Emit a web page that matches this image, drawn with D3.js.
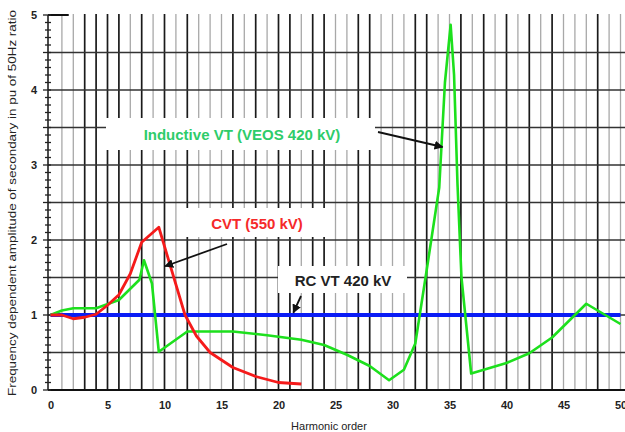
<!DOCTYPE html>
<html>
<head>
<meta charset="utf-8">
<script src="https://cdn.jsdelivr.net/npm/d3@7"></script>
<style>
  body { margin: 0; background: #fff; }
  svg { display: block; font-family: "Liberation Sans", Arial, sans-serif; }
</style>
</head>
<body>
<svg id="svg"></svg>
<script>
// harmonic order ticks and amplitude ticks
var harmonicTicks = [0, 5, 10, 15, 20, 25, 30, 35, 40, 45, 50];
var ampTicks = [0, 1, 2, 3, 4, 5];

// darker lines of the (scanned) grid paper
var heavyGrid = [3, 4, 5, 6, 8, 10, 12, 16, 18, 20, 21, 23, 24, 27, 28, 32, 33, 36, 38, 40, 42, 44, 48];

// CVT (550 kV)
var cvtH = [0, 1, 2, 3, 4, 5, 6, 7, 8, 9.5, 11.8, 12.8, 14, 16, 18, 20, 22];
var cvtV = [1.0, 1.0, 0.95, 0.97, 1.01, 1.13, 1.27, 1.55, 1.97, 2.17, 1.0, 0.72, 0.5, 0.3, 0.18, 0.1, 0.08];

// Inductive VT (VEOS 420 kV)
var indH = [0, 1, 2, 4, 6, 7.8, 8.2, 8.9, 9.5, 12, 16, 19, 22, 24, 26, 28, 29.7, 31, 32, 33, 34.1, 34.6, 35.1, 35.4, 35.7, 36.05, 36.9, 40, 42, 44, 47, 50];
var indV = [1.0, 1.06, 1.09, 1.09, 1.2, 1.47, 1.73, 1.42, 0.51, 0.78, 0.78, 0.73, 0.67, 0.6, 0.47, 0.32, 0.13, 0.27, 0.62, 1.6, 2.7, 4.1, 4.87, 4.2, 2.75, 1.5, 0.22, 0.36, 0.49, 0.7, 1.15, 0.88];

// RC VT 420 kV
var rcH = [0, 50];
var rcV = [1.0, 1.0];

var labels = ["Inductive VT (VEOS 420 kV)", "CVT (550 kV)", "RC VT 420 kV"];

var width = 625,
	height = 432;

var svg = d3.select("#svg")
	.attr("width", width)
	.attr("height", height);

var x = d3.scaleLinear().domain([0, 50]).range([50.5, 620.5]);
var y = d3.scaleLinear().domain([0, 5]).range([390, 15]);

// vertical grid
var vGrid = svg.append("g").attr("id", "vgrid");
vGrid.selectAll("line")
	.data(d3.range(1, 51))
	.enter()
	.append("line")
	.attr("x1", function(d){ return x(d); })
	.attr("x2", function(d){ return x(d); })
	.attr("y1", y(5) - 1)
	.attr("y2", y(0))
	.attr("stroke", function(d){ return heavyGrid.indexOf(d) >= 0 ? "#1a1a1a" : "#a8a8a8"; })
	.attr("stroke-width", function(d){ return heavyGrid.indexOf(d) >= 0 ? 1.7 : 1.3; });

// horizontal grid
var hGrid = svg.append("g").attr("id", "hgrid");
hGrid.selectAll("line")
	.data(d3.range(0.5, 5, 0.5))
	.enter()
	.append("line")
	.attr("x1", 48)
	.attr("x2", width)
	.attr("y1", function(d){ return y(d); })
	.attr("y2", function(d){ return y(d); })
	.attr("stroke", "#333")
	.attr("stroke-width", 1.3);

svg.append("line")
	.attr("x1", 48).attr("x2", x(1.6))
	.attr("y1", y(5)).attr("y2", y(5))
	.attr("stroke", "#111").attr("stroke-width", 2);

// axis lines
svg.append("line")
	.attr("x1", 48).attr("x2", 48)
	.attr("y1", y(5)).attr("y2", y(0))
	.attr("stroke", "#111").attr("stroke-width", 1.5);
svg.append("line")
	.attr("x1", 48).attr("x2", width)
	.attr("y1", y(0)).attr("y2", y(0))
	.attr("stroke", "#111").attr("stroke-width", 2);

// minor ticks on y axis
svg.append("g").selectAll("line")
	.data(d3.range(0, 51).map(function(d){ return d / 10; }))
	.enter()
	.append("line")
	.attr("x1", function(d){ return (d * 2) % 1 === 0 ? 43 : 45; })
	.attr("x2", 51)
	.attr("y1", function(d){ return y(d); })
	.attr("y2", function(d){ return y(d); })
	.attr("stroke", "#222")
	.attr("stroke-width", 1.3);

// tick labels
var xAxis = svg.append("g")
	.attr("transform", "translate(0," + y(0) + ")")
	.call(d3.axisBottom(x).tickValues(harmonicTicks).tickSize(0).tickPadding(11));
xAxis.select(".domain").remove();
xAxis.selectAll("text")
	.attr("font-size", 11)
	.attr("font-weight", "bold")
	.attr("fill", "#222")
	.attr("font-family", "Liberation Sans, Arial, sans-serif");

var yAxis = svg.append("g")
	.attr("transform", "translate(34,0)")
	.call(d3.axisLeft(y).tickValues(ampTicks).tickFormat(d3.format("d")).tickSize(0).tickPadding(0));
yAxis.select(".domain").remove();
yAxis.selectAll("text")
	.attr("text-anchor", "middle")
	.attr("dy", "0.35em")
	.attr("font-size", 11)
	.attr("font-weight", "bold")
	.attr("fill", "#222")
	.attr("font-family", "Liberation Sans, Arial, sans-serif");

// axis titles
svg.append("text")
	.attr("x", 329)
	.attr("y", 430)
	.attr("text-anchor", "middle")
	.attr("font-size", 11)
	.attr("fill", "#222")
	.text("Harmonic order");

svg.append("text")
	.attr("transform", "translate(16,203) rotate(-90)")
	.attr("text-anchor", "middle")
	.attr("font-size", 11.5)
	.attr("fill", "#222")
	.attr("textLength", 386)
	.attr("lengthAdjust", "spacingAndGlyphs")
	.text("Frequency dependent amplitude of secondary in pu of 50Hz ratio");

// label backgrounds
var boxes = [
	{x0: 106, x1: 375, y0: 118, y1: 150},
	{x0: 177, x1: 327, y0: 208, y1: 237},
	{x0: 278, x1: 407, y0: 266, y1: 293}
];
svg.append("g").selectAll("rect")
	.data(boxes)
	.enter()
	.append("rect")
	.attr("x", function(d){ return d.x0; })
	.attr("y", function(d){ return d.y0; })
	.attr("width", function(d){ return d.x1 - d.x0; })
	.attr("height", function(d){ return d.y1 - d.y0; })
	.attr("fill", "#fff");

// series
var line = d3.line()
	.x(function(d){ return x(d[0]); })
	.y(function(d){ return y(d[1]); });

function pairs(h, v){
	return h.map(function(d, i){ return [d, v[i]]; });
}

svg.append("path")
	.datum(pairs(rcH, rcV))
	.attr("d", line)
	.attr("fill", "none")
	.attr("stroke", "#0a1cf5")
	.attr("stroke-width", 4);

svg.append("path")
	.datum(pairs(indH, indV))
	.attr("d", line)
	.attr("fill", "none")
	.attr("stroke", "#1de01d")
	.attr("stroke-width", 2.6)
	.attr("stroke-linejoin", "round");

svg.append("path")
	.datum(pairs(cvtH, cvtV))
	.attr("d", line)
	.attr("fill", "none")
	.attr("stroke", "#f51a1a")
	.attr("stroke-width", 2.8)
	.attr("stroke-linejoin", "round");

// labels
var labelStyle = [
	{x: 242, y: 140, fill: "#2ecc6a"},
	{x: 257, y: 229, fill: "#f52a2a"},
	{x: 343, y: 286, fill: "#222"}
];
svg.append("g").selectAll("text")
	.data(labels)
	.enter()
	.append("text")
	.attr("x", function(d, i){ return labelStyle[i].x; })
	.attr("y", function(d, i){ return labelStyle[i].y; })
	.attr("text-anchor", "middle")
	.attr("font-size", 15)
	.attr("font-weight", "bold")
	.attr("fill", function(d, i){ return labelStyle[i].fill; })
	.text(function(d){ return d; });

// arrows
svg.append("defs").append("marker")
	.attr("id", "head")
	.attr("viewBox", "0 0 10 10")
	.attr("refX", 9)
	.attr("refY", 5)
	.attr("markerWidth", 5)
	.attr("markerHeight", 5)
	.attr("orient", "auto")
	.append("path")
	.attr("d", "M0,0L10,5L0,10Z")
	.attr("fill", "#111");

var arrows = [
	{x1: 378, y1: 132, h: 34.4, v: 3.24},
	{x1: 227, y1: 244, h: 10.05, v: 1.65},
	{x1: 301, y1: 296, h: 21.3, v: 1.03}
];
svg.append("g").selectAll("line")
	.data(arrows)
	.enter()
	.append("line")
	.attr("x1", function(d){ return d.x1; })
	.attr("y1", function(d){ return d.y1; })
	.attr("x2", function(d){ return x(d.h); })
	.attr("y2", function(d){ return y(d.v); })
	.attr("stroke", "#111")
	.attr("stroke-width", 1.8)
	.attr("marker-end", "url(#head)");
</script>
</body>
</html>
